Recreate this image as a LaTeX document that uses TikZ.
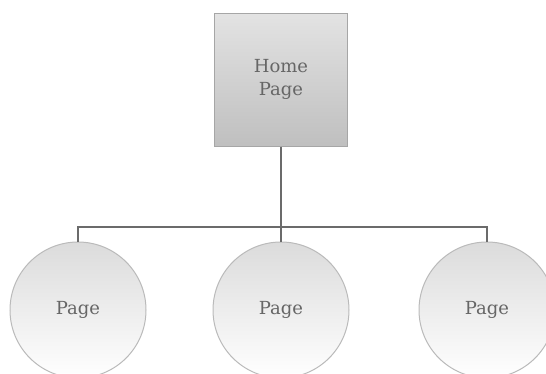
\documentclass[tikz,border=0pt]{standalone}
\usepackage{fontspec}
\setmainfont{DejaVu Serif}
\usepackage{tikz}
\usetikzlibrary{positioning}

\tikzset{
  homebox/.style={draw=black!35, line width=1pt, top color=black!11, bottom color=black!25,
    minimum width=133pt, minimum height=133pt, align=center, text=black!60,
    font=\fontsize{18}{23}\selectfont},
  pagecircle/.style={circle, draw=black!27, line width=1pt, top color=black!14, bottom color=white,
    minimum size=136pt, text=black!60, font=\fontsize{18}{23}\selectfont},
  link/.style={draw=black!58, line width=1.4pt}
}

\begin{document}
\begin{tikzpicture}[x=1pt, y=-1pt]
  % picture frame
  \useasboundingbox (0,0) rectangle (546,373);
  \clip (0,0) rectangle (546,373);
  % Home page box
  \node[homebox] (home) at (281,79.5) {Home\\Page};
  % Child pages
  \node[pagecircle] (p1) at (78,310) {Page};
  \node[pagecircle] (p2) at (281,310) {Page};
  \node[pagecircle] (p3) at (487,310) {Page};
  % Tree connectors
  \coordinate (bar) at (281,227);
  \draw[link] (home.south) -- (p2.north);
  \draw[link] (p1.north) |- (bar) -| (p3.north);
\end{tikzpicture}
\end{document}
